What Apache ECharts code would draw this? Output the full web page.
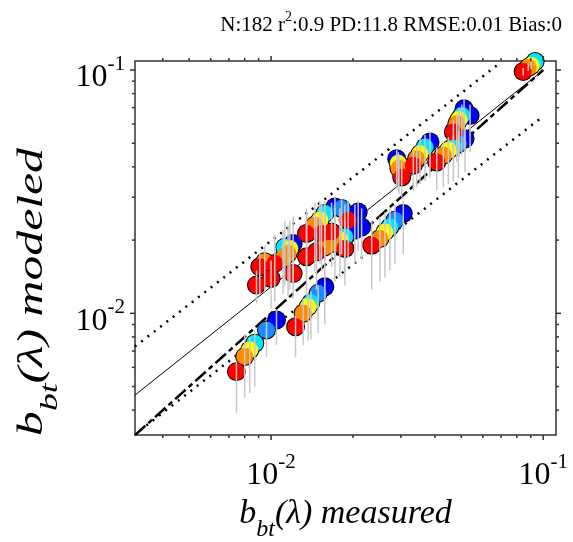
<!DOCTYPE html>
<html>
<head>
<meta charset="utf-8">
<script src="https://cdn.jsdelivr.net/npm/echarts@6/dist/echarts.min.js"></script>
<style>
  html, body { margin: 0; padding: 0; background: #fff; }
  #chart { width: 573px; height: 542px; }
</style>
</head>
<body>
<div id="chart"></div>
<script>
// one entry per circle: measured, modeled, wavelength, gray bar low/high
var measured = [
  0.00746, 0.00800, 0.00835, 0.00871,
  0.00962, 0.01047,
  0.0123, 0.01312, 0.01369, 0.0140, 0.01489, 0.01576,
  0.00884, 0.0100, 0.01205, 0.00909, 0.00948, 0.01032, 0.01107, 0.01155, 0.01172, 0.01205,
  0.0135, 0.01469, 0.01576, 0.01867, 0.01716, 0.0179, 0.01867, 0.02032, 0.0135, 0.01533,
  0.01669, 0.01448, 0.01511, 0.01576, 0.01716, 0.0192, 0.01816, 0.0209, 0.02151, 0.01123,
  0.02343, 0.02512, 0.02621, 0.02734, 0.02853, 0.0306,
  0.02894, 0.02934, 0.02951, 0.0302,
  0.03331, 0.03428, 0.03526, 0.03678, 0.03837,
  0.04062, 0.04295, 0.04481, 0.04676, 0.04879, 0.05163,
  0.04676, 0.04813, 0.04907, 0.05021, 0.05119, 0.05386,
  0.0844, 0.0881, 0.0903, 0.0934
]
var modeled = [
  0.00576, 0.00664, 0.00707, 0.00753,
  0.00854, 0.00939,
  0.00881, 0.0100, 0.01064, 0.01105, 0.01208, 0.01286,
  0.01306, 0.01391, 0.01459, 0.01553, 0.01628, 0.01604, 0.01681, 0.01762, 0.01847, 0.01936,
  0.01707, 0.01789, 0.01875, 0.01847, 0.01936, 0.0200, 0.02062, 0.02197, 0.02129, 0.02129,
  0.02161, 0.02303, 0.02414, 0.02572, 0.02737, 0.02414, 0.02696, 0.0261, 0.02265, 0.01871,
  0.01906, 0.0203, 0.02161, 0.02265, 0.02414, 0.02572,
  0.04322, 0.04134, 0.03945, 0.03633,
  0.04057, 0.04322, 0.04532, 0.04823, 0.05057,
  0.04185, 0.0446, 0.04675, 0.04823, 0.0498, 0.0522,
  0.05558, 0.06017, 0.06266, 0.06507, 0.06931, 0.06507,
  0.0986, 0.1024, 0.1043, 0.1084
]
var wavelength = [
  670, 620, 555, 510,
  490, 443,
  670, 620, 555, 510, 490, 443,
  670, 670, 670, 670, 620, 670, 620, 620, 555, 443,
  670, 670, 620, 670, 620, 555, 510, 443, 670, 670,
  670, 620, 555, 510, 443, 670, 490, 443, 443, 510,
  670, 620, 555, 510, 490, 443,
  443, 555, 620, 670,
  670, 620, 555, 510, 443,
  670, 620, 555, 510, 490, 443,
  670, 620, 555, 510, 443, 443,
  670, 620, 555, 510
]
var errLow = [
  0.0039, 0.0045, 0.0047, 0.0050,
  0.0066, 0.0074,
  0.0066, 0.0074, 0.0077, 0.0078, 0.0083, 0.0090,
  0.0110, 0.0105, 0.0115, 0.0120, 0.0122, 0.0112, 0.0120, 0.0118, 0.0125, 0.0130,
  0.0118, 0.0125, 0.0130, 0.0130, 0.0135, 0.0140, 0.0145, 0.0160, 0.0140, 0.0150,
  0.0155, 0.0150, 0.0160, 0.0165, 0.0170, 0.0170, 0.0175, 0.0180, 0.0165, 0.0130,
  0.0125, 0.0135, 0.0140, 0.0150, 0.0160, 0.0175,
  0.0330, 0.0320, 0.0310, 0.0300,
  0.0320, 0.0330, 0.0340, 0.0350, 0.0360,
  0.0320, 0.0330, 0.0340, 0.0350, 0.0360, 0.0380,
  0.0400, 0.0420, 0.0440, 0.0450, 0.0470, 0.0460,
  0.0950, 0.0990, 0.1010, 0.1050
]
var errHigh = [
  0.0063, 0.0082, 0.0080, 0.0085,
  0.0092, 0.0103,
  0.0098, 0.0115, 0.0120, 0.0123, 0.0130, 0.0135,
  0.0150, 0.0165, 0.0190, 0.0175, 0.0190, 0.0210, 0.0220, 0.0230, 0.0240, 0.0250,
  0.0240, 0.0250, 0.0260, 0.0240, 0.0270, 0.0270, 0.0280, 0.0280, 0.0270, 0.0280,
  0.0285, 0.0285, 0.0290, 0.0290, 0.0300, 0.0290, 0.0295, 0.0290, 0.0270, 0.0240,
  0.0240, 0.0250, 0.0260, 0.0270, 0.0280, 0.0290,
  0.0470, 0.0460, 0.0450, 0.0430,
  0.0470, 0.0490, 0.0520, 0.0540, 0.0560,
  0.0480, 0.0510, 0.0530, 0.0540, 0.0560, 0.0580,
  0.0620, 0.0660, 0.0700, 0.0720, 0.0760, 0.0720,
  0.1020, 0.1060, 0.1080, 0.1110
]

// reference lines (two end points each)
var oneToOneX = [0.00316, 0.1]
var oneToOneY = [0.00316, 0.1]
var fitX = [0.00316, 0.1]
var fitY = [0.00461, 0.0998]
var upperX = [0.00316, 0.068]
var upperY = [0.0073, 0.105]
var lowerX = [0.0033, 0.099]
var lowerY = [0.0033, 0.064]

var wlLevels = [443, 490, 510, 555, 620, 670]
var wlColors = ['#0000ff', '#1a8cff', '#00e6ff', '#ffff00', '#ff8c00', '#ff0000']

var xMin = -2.5, xMax = -0.953
var yMin = -2.5, yMax = -0.963
var serif = '"Liberation Serif", "DejaVu Serif", serif'

var L = Math.log10

// draw blue first so red ends on top
var order = measured.map(function (m, i) { return i })
order.sort(function (a, b) { return wavelength[a] - wavelength[b] || a - b })
var points = order.map(function (i) {
  return [L(measured[i]), L(modeled[i]), wavelength[i]]
})
var bars = order.map(function (i) {
  return [L(measured[i]), L(errLow[i]), L(errHigh[i])]
})

function pairs(xs, ys) {
  return xs.map(function (x, i) { return [L(x), L(ys[i])] })
}

function logTicks(lo, hi) {
  var out = []
  for (var e = -4; e <= 0; e++) {
    for (var k = 1; k <= 9; k++) {
      var v = e + L(k)
      if (v >= lo - 1e-9 && v <= hi + 1e-9) out.push([v, k === 1 ? 1 : 0])
    }
  }
  return out
}

var tickStyle = { stroke: '#333', lineWidth: 1.5 }

function xTickItem(params, api) {
  var cs = params.coordSys
  var len = api.value(1) ? 5 : 3
  var px = api.coord([api.value(0), yMin])[0]
  var b = cs.y + cs.height
  return {
    type: 'group',
    children: [
      { type: 'line', shape: { x1: px, y1: b, x2: px, y2: b + len }, style: tickStyle },
      { type: 'line', shape: { x1: px, y1: cs.y, x2: px, y2: cs.y - len }, style: tickStyle }
    ]
  }
}

function yTickItem(params, api) {
  var cs = params.coordSys
  var len = api.value(1) ? 5 : 3
  var py = api.coord([xMin, api.value(0)])[1]
  var r = cs.x + cs.width
  return {
    type: 'group',
    children: [
      { type: 'line', shape: { x1: cs.x, y1: py, x2: cs.x - len, y2: py }, style: tickStyle },
      { type: 'line', shape: { x1: r, y1: py, x2: r + len, y2: py }, style: tickStyle }
    ]
  }
}

function barItem(params, api) {
  var p1 = api.coord([api.value(0), api.value(1)])
  var p2 = api.coord([api.value(0), api.value(2)])
  return {
    type: 'line',
    shape: { x1: p1[0], y1: p1[1], x2: p2[0], y2: p2[1] },
    style: { stroke: '#c8c8c8', lineWidth: 1.5 }
  }
}

function powLabel(v) {
  if (Math.abs(v - Math.round(v)) > 1e-6) return ''
  return '{m|10}{s|' + Math.round(v) + '}'
}

var labelRich = {
  m: { fontFamily: serif, fontSize: 32, color: '#000', lineHeight: 32, padding: [8, 0, 0, 0], verticalAlign: 'top' },
  s: { fontFamily: serif, fontSize: 21, color: '#000', lineHeight: 21, verticalAlign: 'top' }
}

function nameRich(size) {
  return {
    b: { fontFamily: serif, fontStyle: 'italic', fontSize: size, color: '#000', lineHeight: size, verticalAlign: 'top' },
    s: { fontFamily: serif, fontStyle: 'italic', fontSize: Math.round(size * 0.72), color: '#000',
         lineHeight: Math.round(size * 0.72), padding: [Math.round(size * 0.62), 0, 0, 0], verticalAlign: 'top' }
  }
}

var chart = echarts.init(document.getElementById('chart'))

chart.setOption({
  animation: false,
  backgroundColor: '#fff',
  title: {
    text: '{a|N:182 r}{s|2}{a|:0.9 PD:11.8 RMSE:0.01 Bias:0}',
    right: 6,
    top: 5,
    textStyle: {
      fontWeight: 'normal',
      rich: {
        a: { fontFamily: serif, fontWeight: 'normal', fontSize: 21, color: '#000', lineHeight: 22, padding: [5, 0, 0, 0], verticalAlign: 'top' },
        s: { fontFamily: serif, fontWeight: 'normal', fontSize: 14, color: '#000', lineHeight: 14, verticalAlign: 'top' }
      }
    }
  },
  // y title is drawn stretched along its length, as in the source figure
  graphic: [{
    type: 'text',
    x: 33,
    y: 292,
    rotation: Math.PI / 2,
    scaleX: 1.42,
    style: {
      text: '{b|b}{s|bt}{b|(λ) modeled}',
      rich: nameRich(35),
      align: 'center',
      verticalAlign: 'middle'
    }
  }],
  grid: {
    left: 135, top: 61, right: 17, bottom: 107,
    show: true, borderColor: '#333', borderWidth: 1.5,
    outerBoundsMode: 'none'
  },
  visualMap: {
    show: false,
    type: 'piecewise',
    dimension: 2,
    seriesIndex: 5,
    pieces: wlLevels.map(function (w, i) { return { value: w, color: wlColors[i] } })
  },
  xAxis: {
    type: 'value', min: xMin, max: xMax, interval: 0.5,
    axisLine: { show: false }, axisTick: { show: false }, splitLine: { show: false },
    axisLabel: { margin: 17, formatter: powLabel, rich: labelRich },
    name: '{b|b}{s|bt}{b|(λ) measured}',
    nameLocation: 'middle',
    nameGap: 60,
    nameTextStyle: { rich: nameRich(34) }
  },
  yAxis: {
    type: 'value', min: yMin, max: yMax, interval: 0.5,
    axisLine: { show: false }, axisTick: { show: false }, splitLine: { show: false },
    axisLabel: { margin: 10, formatter: powLabel, rich: labelRich }
  },
  series: [
    {
      type: 'line', data: pairs(upperX, upperY), symbol: 'none', z: 2,
      lineStyle: { color: '#000', width: 2.5, type: [2, 6] }
    },
    {
      type: 'line', data: pairs(lowerX, lowerY), symbol: 'none', z: 2,
      lineStyle: { color: '#000', width: 2.5, type: [2, 6] }
    },
    {
      type: 'line', data: pairs(fitX, fitY), symbol: 'none', z: 2,
      lineStyle: { color: '#000', width: 1 }
    },
    {
      type: 'line', data: pairs(oneToOneX, oneToOneY), symbol: 'none', z: 2,
      lineStyle: { color: '#000', width: 2.5, type: [14, 4, 5, 4] }
    },
    {
      // black ring under the coloured circles
      type: 'scatter', data: points, symbolSize: 19, z: 3,
      itemStyle: { color: '#000', opacity: 1 }
    },
    {
      type: 'scatter', data: points, symbolSize: 17, z: 4,
      itemStyle: { opacity: 1 }
    },
    {
      type: 'custom', data: bars, renderItem: barItem, z: 5, clip: true,
      encode: { x: 0, y: 1 }
    },
    {
      type: 'custom', data: logTicks(xMin, xMax), renderItem: xTickItem, z: 6, clip: false,
      encode: { x: 0 }
    },
    {
      type: 'custom', data: logTicks(yMin, yMax), renderItem: yTickItem, z: 6, clip: false,
      encode: { y: 0 }
    }
  ]
})
</script>
</body>
</html>
